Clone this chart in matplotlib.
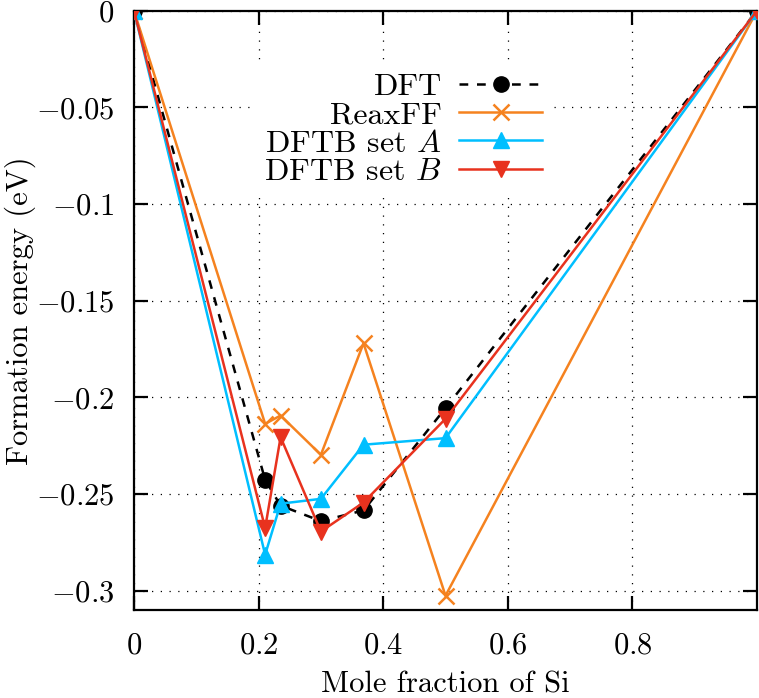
import matplotlib
matplotlib.use("Agg")
import matplotlib.pyplot as plt
from matplotlib.ticker import FixedLocator, FuncFormatter

plt.rcParams['font.family'] = ['cmr10', 'DejaVu Serif']
plt.rcParams['mathtext.fontset'] = 'cm'
plt.rcParams['axes.unicode_minus'] = False
plt.rcParams['axes.formatter.use_mathtext'] = True

# Data
x = [0.0, 0.2105, 0.2353, 0.3, 0.3684, 0.5, 1.0]
dft = [0.0, -0.2427, -0.2560, -0.2640, -0.2585, -0.2056, 0.0]
reaxff = [0.0, -0.2137, -0.2094, -0.2297, -0.1720, -0.3026, 0.0]
dftb_a = [0.0, -0.2814, -0.2550, -0.2525, -0.2245, -0.2211, 0.0]
dftb_b = [0.0, -0.2676, -0.2206, -0.2694, -0.2544, -0.2111, 0.0]
xticks = [0, 0.2, 0.4, 0.6, 0.8]
yticks = [0, -0.05, -0.1, -0.15, -0.2, -0.25, -0.3]

fig = plt.figure(figsize=(7.59, 6.98), dpi=100)
ax = fig.add_axes([134/759, 1-610/698, (757-134)/759, (610-10.7)/698])

lw = 1.8
ax.plot(x, dft, color='black', lw=lw, linestyle=(0, (3.5, 3.5)), marker='o', ms=11,
        label='DFT', zorder=3)
ax.plot(x, reaxff, color='#F5821F', lw=lw, marker='x', ms=11, mew=1.8,
        label='ReaxFF', zorder=4)
ax.plot(x, dftb_a, color='#00BFFF', lw=lw, marker='^', ms=11,
        label='DFTB set $A$', zorder=5)
ax.plot(x, dftb_b, color='#E8321E', lw=lw, marker='v', ms=11,
        label='DFTB set $B$', zorder=6)

ax.set_xlim(0, 1)
ax.set_ylim(-0.31, 0)
ax.xaxis.set_major_locator(FixedLocator(xticks))
ax.yaxis.set_major_locator(FixedLocator(yticks))

def fmt(v, pos):
    s = '%g' % v
    if s.startswith('-'):
        s = r'-' + s[1:]
    return '$' + s + '$'

ax.xaxis.set_major_formatter(FuncFormatter(fmt))
ax.yaxis.set_major_formatter(FuncFormatter(fmt))

ax.tick_params(direction='in', length=10, width=1.6, top=True, right=True,
               labelsize=22)
ax.tick_params(axis='x', pad=16)
ax.tick_params(axis='y', pad=14)
for s in ax.spines.values():
    s.set_linewidth(1.6)

ax.grid(True, color='black', linestyle=(0, (1, 6)), lw=0.9)
ax.set_axisbelow(True)

ax.set_xlabel('Mole fraction of Si', fontsize=22, labelpad=8)
ax.set_ylabel('Formation energy (eV)', fontsize=22)
ax.yaxis.set_label_coords(-0.158, 0.5)

leg = ax.legend(loc='upper right', bbox_to_anchor=(0.671, 0.913), markerfirst=False,
                fontsize=23, handlelength=2.6, handletextpad=0.55, labelspacing=0.0,
                borderpad=0.3, borderaxespad=0, fancybox=False, framealpha=1,
                facecolor='white', edgecolor='none')
leg.set_zorder(10)

fig.savefig('out.png', dpi=100)
